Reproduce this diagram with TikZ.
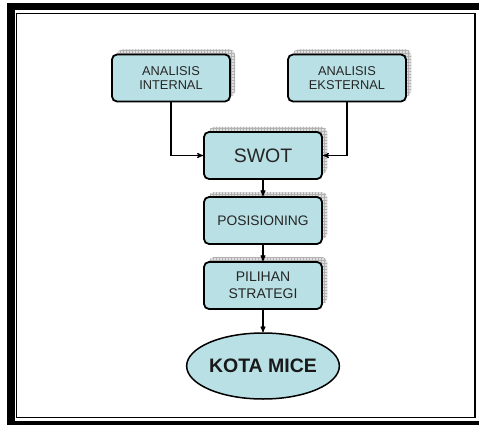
\documentclass[tikz,border=0pt]{standalone}
\usepackage{fontspec}
\setmainfont{Liberation Sans}
\usetikzlibrary{arrows,shadows,patterns,shapes.geometric}
\definecolor{boxcyan}{RGB}{185,224,228}
\tikzset{
>=stealth',
  kotak/.style={
    rectangle,
    rounded corners=5pt,
    fill=boxcyan,
    draw=black, line width=1.8pt,
    minimum width=118pt,
    minimum height=47pt,
    inner sep=0pt,
    align=center,
    text=black!85,
    general shadow={fill=gray!25, shadow xshift=5pt, shadow yshift=5pt,
      postaction={pattern=grid, pattern color=gray!60}}},
  tujuan/.style={
    ellipse,
    fill=boxcyan,
    draw=black, line width=1.5pt,
    minimum width=142pt,
    minimum height=66pt,
    inner sep=0pt,
    text=black!90},
  line/.style={draw, line width=1.1pt, ->},
}

\begin{document}
\begin{tikzpicture}[x=1pt,y=-1pt]

      \clip (0,0) rectangle (479,425);
      \useasboundingbox (0,0) rectangle (479,425);
      \fill[white] (0,0) rectangle (479,425);

      % bingkai
      \draw[line width=7.5pt] (11,6.5) rectangle (495,424.5);
      \draw[line width=1.4pt] (16.5,13.8) rectangle (475,417.5);

      \node[kotak, font=\fontsize{12.8}{14.7}\selectfont] (intern) at (171,78) {ANALISIS\\INTERNAL};
      \node[kotak, font=\fontsize{12.8}{14.7}\selectfont] (ekstern) at (347,78) {ANALISIS\\EKSTERNAL};
      \node[kotak, font=\fontsize{19.5}{22}\selectfont] (swot) at (263,155.5) {SWOT};
      \node[kotak, font=\fontsize{13.8}{16}\selectfont] (posisi) at (263,220.5) {POSISIONING};
      \node[kotak, font=\fontsize{14}{17}\selectfont] (pilihan) at (263,285.5) {PILIHAN\\STRATEGI};
      \node[tujuan, font=\fontsize{19.5}{22}\selectfont\bfseries] (kota) at (263,366) {KOTA MICE};

      \draw[line] (intern.south) |- (swot.west);
      \draw[line] (ekstern.south) |- (swot.east);
      \draw[line] (swot) -- (posisi);
      \draw[line] (posisi) -- (pilihan);
      \draw[line] (pilihan) -- (kota);

    \end{tikzpicture}
\end{document}
